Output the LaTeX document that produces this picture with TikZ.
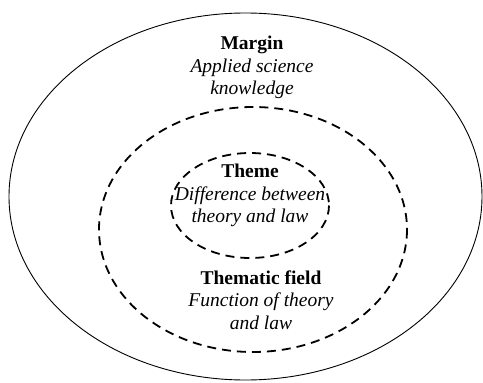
\documentclass[tikz,border=0pt]{standalone}
\usepackage{fontspec}
\setmainfont{Liberation Serif}[
  UprightFont={Liberation Serif},
  BoldFont={Liberation Serif Bold},
  ItalicFont={Liberation Serif Italic},
  BoldItalicFont={Liberation Serif Bold Italic}]
\begin{document}
\begin{tikzpicture}[x=1pt,y=-1pt,
  outerring/.style={draw=black,line width=0.9pt},
  dashring/.style={draw=black,line width=1.8pt,dash pattern=on 9pt off 6pt},
  lbl/.style={align=center,inner sep=0pt,font=\fontsize{19.5}{22.5}\selectfont}]
\useasboundingbox (0,0) rectangle (483,383);
\fill[white] (0,0) rectangle (483,383);
\draw[outerring] (245.5,196.5) ellipse [x radius=236.5, y radius=183.5];
\draw[dashring] (253,229.5) ellipse [x radius=154, y radius=122.5];
\draw[dashring] (250,205.5) ellipse [x radius=79, y radius=52.5];
\node[lbl] (margin) at (252,67.5) {\textbf{Margin}\\\textit{Applied science}\\\textit{knowledge}};
\node[lbl] (theme) at (250,195.5) {\textbf{Theme}\\\textit{Difference between}\\\textit{theory and law}};
\node[lbl] (field) at (261,300) {\textbf{Thematic field}\\\textit{Function of theory}\\\textit{and law}};
\end{tikzpicture}
\end{document}
